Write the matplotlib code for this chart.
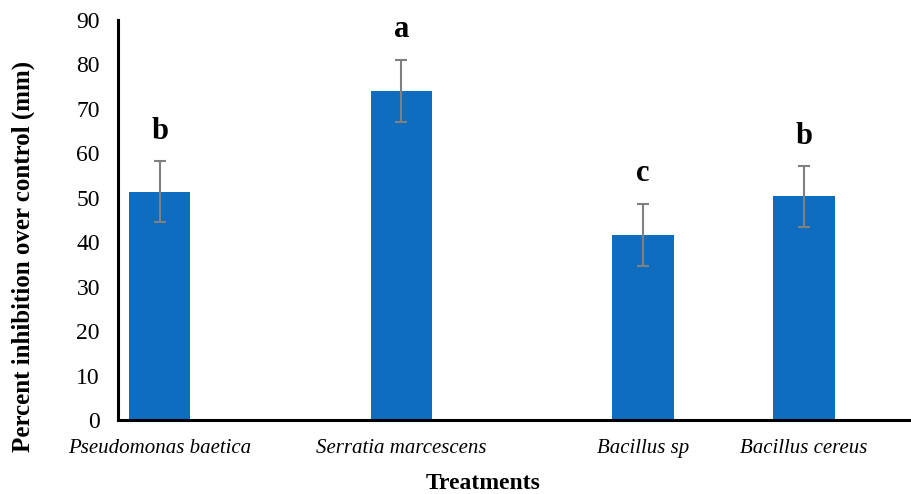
import numpy as np
import matplotlib
matplotlib.use("Agg")
import matplotlib.pyplot as plt

# data
treatments = ["Pseudomonas baetica", "Serratia marcescens", "Bacillus sp", "Bacillus cereus"]
inhibition = [51.4, 74.1, 41.7, 50.3]
errors = [6.9, 7.0, 7.0, 6.9]
letters = ["b", "a", "c", "b"]

# layout: bars are not evenly spaced in the original
xpos = [0, 1.5, 3, 4]

plt.rcParams['font.family'] = ['Liberation Serif', 'DejaVu Serif']

fig = plt.figure(figsize=(9.12, 4.94), dpi=100)
ax = fig.add_axes([118/912, 74/494, 1 - 118/912, 400/494])

ax.bar(xpos, inhibition, width=0.38, color='#0F6DC0', zorder=2)
ax.errorbar(xpos, inhibition, yerr=errors, fmt='none', ecolor='#808080',
            elinewidth=1.5, capsize=4.5, capthick=1.5, zorder=3)

for x, v, e, l in zip(xpos, inhibition, errors, letters):
    ax.annotate(l, (x, v + e), xytext=(0, 11), textcoords='offset points',
                ha='center', va='bottom', fontsize=22, fontweight='bold')

ax.set_xlim(-0.26, 4.67)
ax.set_ylim(0, 90)
ax.set_yticks(np.arange(0, 91, 10))
ax.set_xticks(xpos)
ax.set_xticklabels(treatments, fontstyle='italic', fontsize=15)
ax.tick_params(axis='y', labelsize=17, length=0, pad=13)
ax.tick_params(axis='x', length=0, pad=14)

for s in ['top', 'right']:
    ax.spines[s].set_visible(False)
for s in ['left', 'bottom']:
    ax.spines[s].set_linewidth(2.2)
    ax.spines[s].set_color('black')

ax.set_ylabel('Percent inhibition over control (mm)', fontsize=18, fontweight='bold')
ax.yaxis.set_label_coords(-0.104, 0.41)
ax.set_xlabel('Treatments', fontsize=17, fontweight='bold')
ax.xaxis.set_label_coords(0.46, -0.132)

fig.savefig('out.png', dpi=100)
